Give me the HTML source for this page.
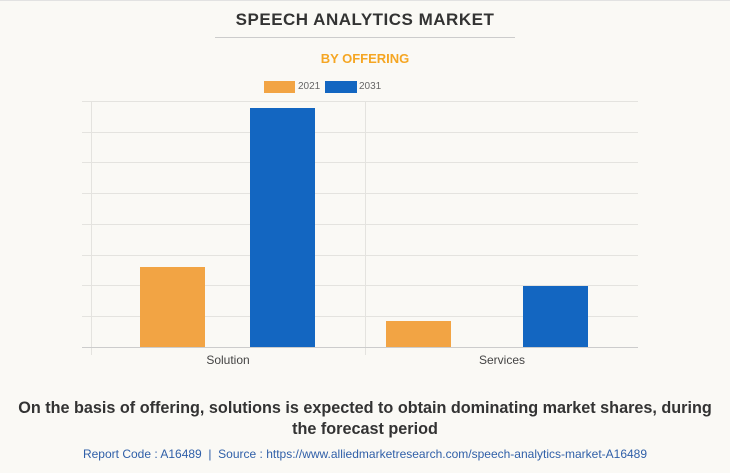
<!DOCTYPE html>
<html><head><style>
body{margin:0;width:730px;height:473px;background:#faf9f5;font-family:"Liberation Sans",sans-serif;overflow:hidden;position:relative}
.a{position:absolute}
</style></head><body>
<div class="a" style="left:0;top:0;width:730px;height:1px;background:#e2e2e2"></div>
<div class="a" style="left:0;top:10px;width:730px;text-align:center;font-weight:bold;font-size:17px;color:#333;letter-spacing:0.5px">SPEECH ANALYTICS MARKET</div>
<div class="a" style="left:215px;top:37px;width:300px;height:1px;background:#ccc"></div>
<div class="a" style="left:0;top:51px;width:730px;text-align:center;font-weight:bold;font-size:13px;color:#f5a623">BY OFFERING</div>
<div class="a" style="left:264px;top:81px;width:31px;height:12px;background:#f2a444"></div>
<div class="a" style="left:298px;top:81px;font-size:10px;color:#666">2021</div>
<div class="a" style="left:325px;top:81px;width:32px;height:12px;background:#1366c1"></div>
<div class="a" style="left:359px;top:81px;font-size:10px;color:#666">2031</div>
<svg class="a" style="left:0;top:0" width="730" height="473">
<g stroke="#e4e3df" stroke-width="1">
<line x1="82" y1="101.5" x2="638" y2="101.5"/><line x1="82" y1="132.5" x2="638" y2="132.5"/>
<line x1="82" y1="162.5" x2="638" y2="162.5"/><line x1="82" y1="193.5" x2="638" y2="193.5"/>
<line x1="82" y1="224.5" x2="638" y2="224.5"/><line x1="82" y1="255.5" x2="638" y2="255.5"/>
<line x1="82" y1="285.5" x2="638" y2="285.5"/><line x1="82" y1="316.5" x2="638" y2="316.5"/>
<line x1="91.5" y1="101" x2="91.5" y2="355"/><line x1="365.5" y1="101" x2="365.5" y2="355"/>
</g>
<line x1="82" y1="347.5" x2="638" y2="347.5" stroke="#ccc"/>
<rect x="140" y="267" width="65" height="80" fill="#f2a444"/>
<rect x="250" y="108" width="65" height="239" fill="#1366c1"/>
<rect x="386" y="321" width="65" height="26" fill="#f2a444"/>
<rect x="523" y="286" width="65" height="61" fill="#1366c1"/>
<text x="228" y="364" font-size="12" fill="#444" text-anchor="middle" font-family="Liberation Sans">Solution</text>
<text x="502" y="364" font-size="12" fill="#444" text-anchor="middle" font-family="Liberation Sans">Services</text>
</svg>
<div class="a" style="left:0;top:398px;width:730px;text-align:center;font-weight:bold;font-size:16.2px;color:#333;line-height:21px">On the basis of offering, solutions is expected to obtain dominating market shares, during<br>the forecast period</div>
<div class="a" style="left:0;top:447px;width:730px;text-align:center;font-size:12px;color:#2f5fa8">Report Code : A16489 &nbsp;|&nbsp; Source : https://www.alliedmarketresearch.com/speech-analytics-market-A16489</div>
</body></html>
